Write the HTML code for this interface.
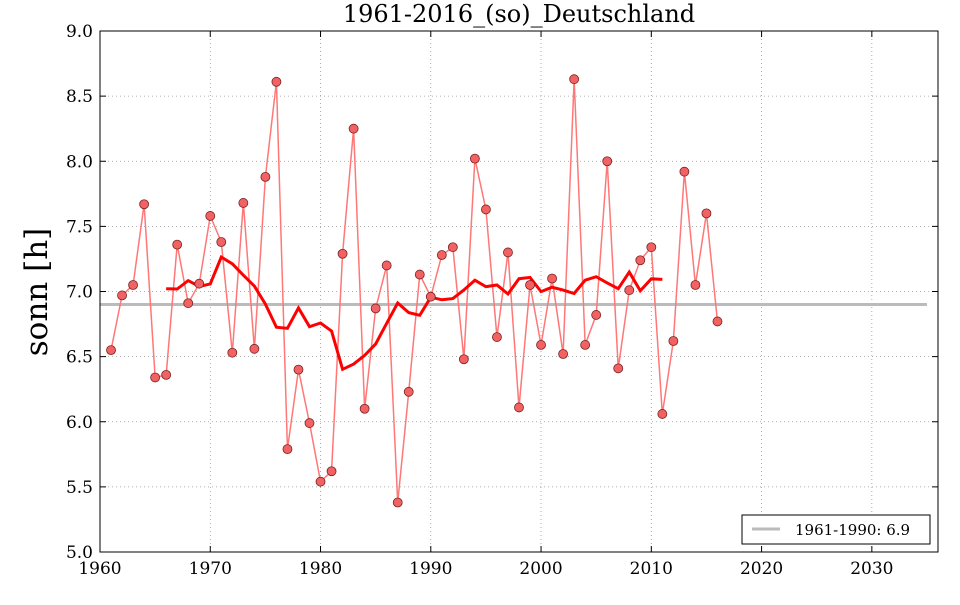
<!DOCTYPE html>
<html><head><meta charset="utf-8">
<style>
html,body{margin:0;padding:0;background:#fff;}
svg text{font-family:"DejaVu Serif","Liberation Serif",serif;}
</style></head>
<body>
<svg id="s" width="960" height="600" xmlns="http://www.w3.org/2000/svg"></svg>
<script>
const d=[6.55,6.97,7.05,7.67,6.34,6.36,7.36,6.91,7.06,7.58,7.38,6.53,7.68,6.56,7.88,8.61,5.79,6.40,5.99,5.54,5.62,7.29,8.25,6.10,6.87,7.20,5.38,6.23,7.13,6.96,7.28,7.34,6.48,8.02,7.63,6.65,7.30,6.11,7.05,6.59,7.10,6.52,8.63,6.59,6.82,8.00,6.41,7.01,7.24,7.34,6.06,6.62,7.92,7.05,7.60,6.77];
const X0=100,X1=938,Y0=31,Y1=552;
const xs=y=>X0+(y-1960)*(X1-X0)/76, ys=v=>Y1-(v-5)*(Y1-Y0)/4;
let h='<rect width="960" height="600" fill="#fff"/>';
// grid
for(let y=1970;y<=2030;y+=10){let x=xs(y);h+=`<line x1="${x}" y1="${Y0}" x2="${x}" y2="${Y1}" stroke="#999" stroke-dasharray="1,3" stroke-width="0.8"/>`;}
for(let v=5.5;v<9;v+=0.5){let y=ys(v);h+=`<line x1="${X0}" y1="${y}" x2="${X1}" y2="${y}" stroke="#999" stroke-dasharray="1,3" stroke-width="0.8"/>`;}
// ref line
h+=`<line x1="${X0}" y1="${ys(6.9)}" x2="${xs(2035)}" y2="${ys(6.9)}" stroke="#bbb" stroke-width="3"/>`;
// data line
let p=d.map((v,i)=>`${xs(1961+i)},${ys(v)}`).join(' ');
h+=`<polyline points="${p}" fill="none" stroke="#ff7777" stroke-width="1.5"/>`;
// moving avg
let m=[];for(let i=5;i<d.length-5;i++){let s=0;for(let k=i-5;k<=i+5;k++)s+=d[k];m.push(`${xs(1961+i)},${ys(s/11)}`);}
h+=`<polyline points="${m.join(' ')}" fill="none" stroke="#f00" stroke-width="3"/>`;
d.forEach((v,i)=>{h+=`<circle cx="${xs(1961+i)}" cy="${ys(v)}" r="4.5" fill="#f26262" stroke="#772222" stroke-width="0.8"/>`;});
// frame
h+=`<rect x="${X0}" y="${Y0}" width="${X1-X0}" height="${Y1-Y0}" fill="none" stroke="#000" stroke-width="1"/>`;
for(let y=1960;y<=2030;y+=10){let x=xs(y);h+=`<line x1="${x}" y1="${Y1}" x2="${x}" y2="${Y1-6}" stroke="#000"/><line x1="${x}" y1="${Y0}" x2="${x}" y2="${Y0+6}" stroke="#000"/><text x="${x}" y="${Y1+22}" font-size="17" text-anchor="middle">${y}</text>`;}
for(let v=5;v<=9.001;v+=0.5){let y=ys(v);h+=`<line x1="${X0}" y1="${y}" x2="${X0+6}" y2="${y}" stroke="#000"/><line x1="${X1}" y1="${y}" x2="${X1-6}" y2="${y}" stroke="#000"/><text x="${X0-7}" y="${y+6}" font-size="17" text-anchor="end">${v.toFixed(1)}</text>`;}
h+=`<text x="519" y="22" font-size="24" text-anchor="middle">1961-2016_(so)_Deutschland</text>`;
h+=`<text transform="translate(47,292) rotate(-90)" font-size="31" text-anchor="middle">sonn [h]</text>`;
h+=`<rect x="742" y="515" width="188" height="29" fill="#fff" stroke="#000"/><line x1="752" y1="529" x2="780" y2="529" stroke="#bbb" stroke-width="3"/><text x="795" y="535" font-size="15">1961-1990: 6.9</text>`;
document.getElementById('s').innerHTML=h;
</script>
</body></html>
